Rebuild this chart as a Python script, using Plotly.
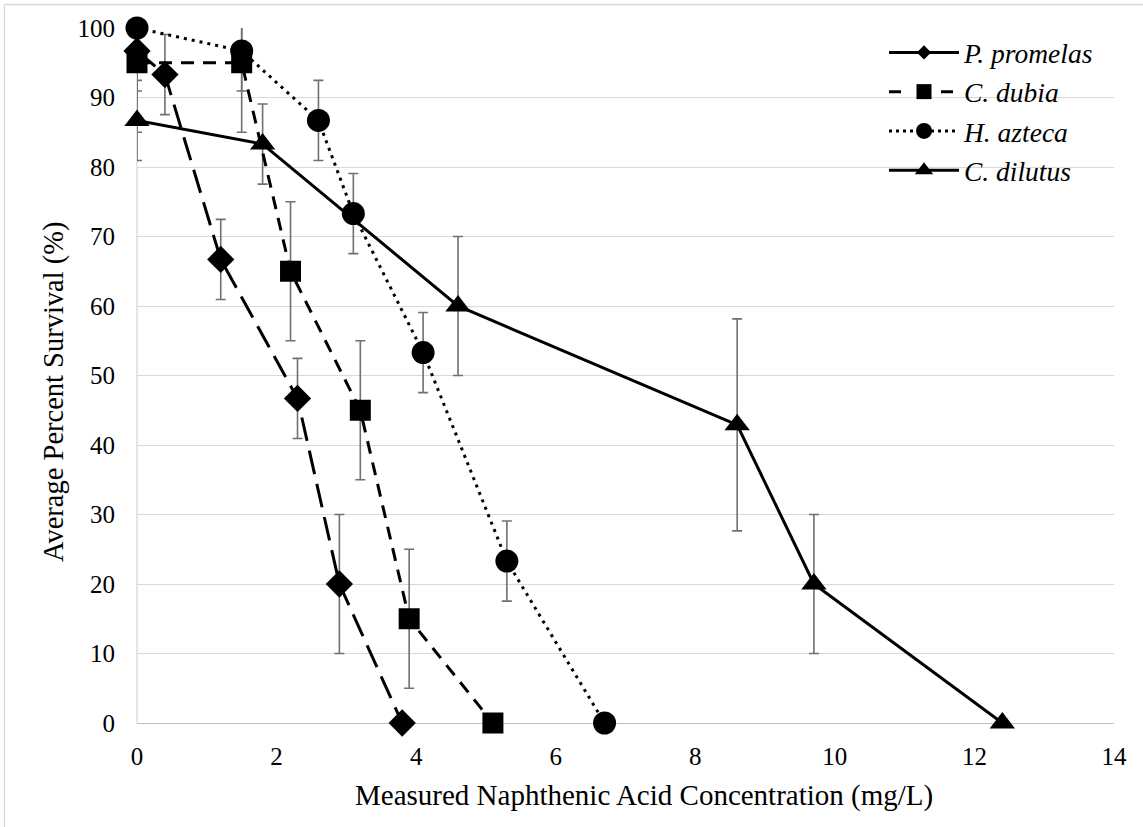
import plotly.graph_objects as go

# ---- data ----
species = ["P. promelas", "C. dubia", "H. azteca", "C. dilutus"]

pp_x = [0, 0.4, 1.2, 2.3, 2.9, 3.8]
pp_y = [96.7, 93.3, 66.7, 46.7, 20, 0]
pp_sd = [5.77, 5.77, 5.77, 5.77, 10, 0]

cd_x = [0, 1.5, 2.2, 3.2, 3.9, 5.1]
cd_y = [95, 95, 65, 45, 15, 0]
cd_sd = [10, 10, 10, 10, 10, 0]

ha_x = [0, 1.5, 2.6, 3.1, 4.1, 5.3, 6.7]
ha_y = [100, 96.7, 86.7, 73.3, 53.3, 23.3, 0]
ha_sd = [0, 5.77, 5.77, 5.77, 5.77, 5.77, 0]

cdil_x = [0, 1.8, 4.6, 8.6, 9.7, 12.4]
cdil_y = [86.7, 83.3, 60, 42.9, 20, 0]
cdil_sd = [5.77, 5.77, 10, 15.25, 10, 0]

x_ticks = [0, 2, 4, 6, 8, 10, 12, 14]
y_ticks = [0, 10, 20, 30, 40, 50, 60, 70, 80, 90, 100]
x_title = "Measured Naphthenic Acid Concentration (mg/L)"
y_title = "Average Percent Survival (%)"

# ---- styles ----
FONT = "Liberation Serif"
W, H = 1143, 827
ML, MR, MT, MB = 137, 29, 28, 104
series = [
    (species[0], pp_x, pp_y, pp_sd, "diamond", 21, "24px,10px", "solid", 11),
    (species[1], cd_x, cd_y, cd_sd, "square", 21, "13px,9px", "12px,40px", 15),
    (species[2], ha_x, ha_y, ha_sd, "circle", 23, "3px,5px", "3px,4px", 16),
    (species[3], cdil_x, cdil_y, cdil_sd, "triangle-up", 22, "solid", "solid", 16),
]

fig = go.Figure()

# error bars (clipped to plot area)
for name, xs, ys, sd, sym, sz, dash, ldash, lsz in series:
    fig.add_trace(go.Scatter(
        x=xs, y=ys, mode="markers",
        marker=dict(size=1, color="rgba(0,0,0,0)"),
        error_y=dict(type="data", array=sd, visible=True,
                     color="#707070", thickness=1.6, width=5),
        showlegend=False, hoverinfo="skip", cliponaxis=True,
    ))

# lines + markers
for name, xs, ys, sd, sym, sz, dash, ldash, lsz in series:
    fig.add_trace(go.Scatter(
        x=xs, y=ys, mode="lines+markers", name=name,
        line=dict(color="black", width=3, dash=dash),
        marker=dict(symbol=sym, size=sz, color="black"),
        showlegend=False, cliponaxis=False,
    ))

# legend entries
for i, (name, xs, ys, sd, sym, sz, dash, ldash, lsz) in enumerate(series):
    fig.add_trace(go.Scatter(
        x=[None], y=[None], mode="lines+markers", name=name,
        line=dict(color="black", width=3, dash=ldash),
        marker=dict(symbol=sym, size=lsz, color="black"),
        legendgroup=str(i),
    ))

pw = W - ML - MR
ph = H - MT - MB
bx = (4.5 - ML) / pw
by = (H - MB - 4.5) / ph
fig.add_shape(type="line", xref="paper", yref="paper", x0=bx, x1=1.2, y0=by, y1=by,
              line=dict(color="#d9d9d9", width=1.3))
fig.add_shape(type="line", xref="paper", yref="paper", x0=bx, x1=bx, y0=by, y1=-0.3,
              line=dict(color="#d9d9d9", width=1.3))
# left axis line
fig.add_shape(type="line", xref="paper", yref="paper", x0=0, x1=0, y0=0, y1=1,
              line=dict(color="#d9d9d9", width=1.3), layer="below")

# axis titles
fig.add_annotation(text=x_title, xref="paper", yref="paper",
                   x=(644 - ML) / pw, y=(H - MB - 795) / ph,
                   xanchor="center", yanchor="middle", showarrow=False,
                   font=dict(family=FONT, size=29, color="black"))
fig.add_annotation(text=y_title, xref="paper", yref="paper", textangle=-90,
                   x=(54 - ML) / pw, y=(H - MB - 392) / ph,
                   xanchor="center", yanchor="middle", showarrow=False,
                   font=dict(family=FONT, size=28.5, color="black"))

fig.update_layout(
    width=W, height=H,
    margin=dict(l=ML, r=MR, t=MT, b=MB, pad=0),
    paper_bgcolor="white", plot_bgcolor="white",
    font=dict(family=FONT, color="black", size=25),
    xaxis=dict(range=[0, 14], tickvals=x_ticks, showgrid=False, zeroline=False,
               showline=False, ticks="", ticklabelstandoff=16,
               tickfont=dict(family=FONT, size=25, color="black")),
    yaxis=dict(range=[0, 100], tickvals=y_ticks, showgrid=True, gridcolor="#d9d9d9",
               gridwidth=1.3, zeroline=True, zerolinecolor="#bfbfbf", zerolinewidth=1.3,
               showline=False, ticks="", ticklabelstandoff=21,
               tickfont=dict(family=FONT, size=25, color="black")),
    legend=dict(x=(884 - ML) / pw, y=1.0, xanchor="left", yanchor="top",
                bgcolor="rgba(0,0,0,0)", itemwidth=70, tracegroupgap=0.5,
                font=dict(family=FONT, size=27.5, color="black", style="italic")),
)

fig.write_html("out.html")
